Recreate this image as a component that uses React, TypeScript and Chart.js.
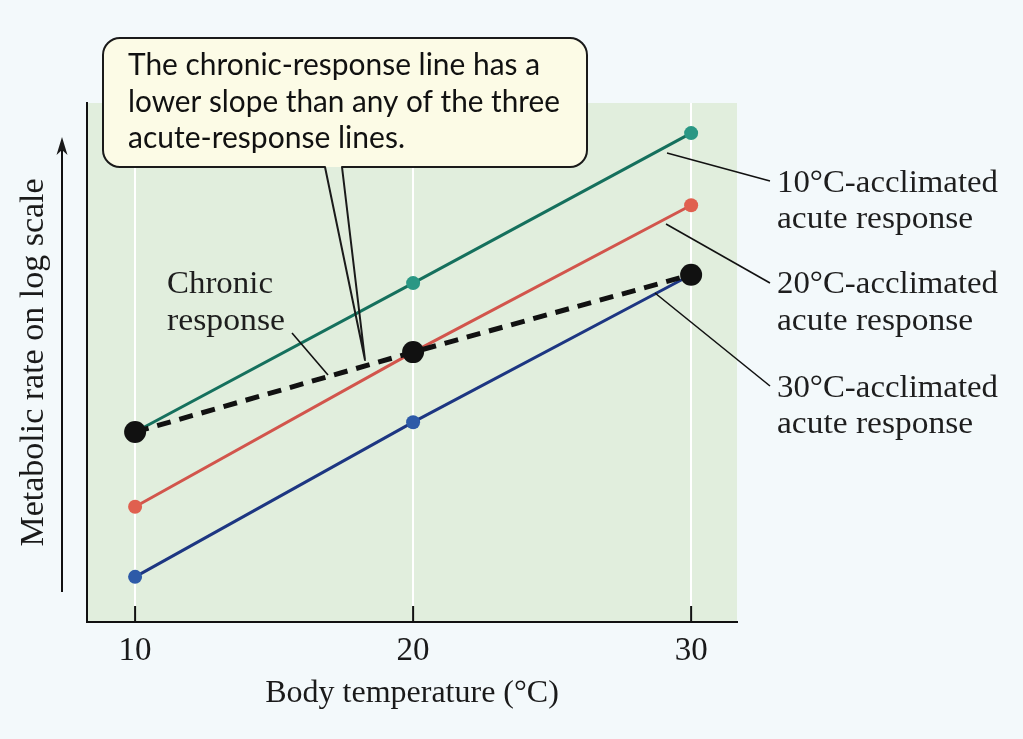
import React, { useEffect, useRef } from "react";
import { Chart, registerables } from "chart.js";

Chart.register(...registerables);

// ---- data ----
const temps = [10, 20, 30];
const xTicks = [10, 20, 30];
const acclim10 = [3.66, 6.53, 9.42];
const acclim20 = [2.22, 5.2, 8.03];
const acclim30 = [0.87, 3.85, 6.69];
const chronic = [3.66, 5.2, 6.69];

const xTitle = "Body temperature (°C)";
const yTitle = "Metabolic rate on log scale";
const calloutLines = [
  "The chronic-response line has a",
  "lower slope than any of the three",
  "acute-response lines.",
];
const seriesLabels = [
  ["10°C-acclimated", "acute response"],
  ["20°C-acclimated", "acute response"],
  ["30°C-acclimated", "acute response"],
];
const chronicLabel = ["Chronic", "response"];

const SERIF = "'Liberation Serif', 'Times New Roman', serif";
const SANS = "Lato, 'Open Sans', sans-serif";
const PAGE_BG = "#f3f9fb";
const PLOT_BG = "#e1eedd";

function fitText(ctx: CanvasRenderingContext2D, text: string, x: number, y: number, font: string, width: number) {
  ctx.font = font;
  const w = ctx.measureText(text).width;
  const sx = width / w;
  ctx.save();
  ctx.translate(x, y);
  ctx.scale(sx, 1);
  ctx.textBaseline = "alphabetic";
  ctx.textAlign = "left";
  ctx.fillText(text, 0, 0);
  ctx.restore();
}

function line(ctx: CanvasRenderingContext2D, x1: number, y1: number, x2: number, y2: number, w = 1.6) {
  ctx.beginPath();
  ctx.lineWidth = w;
  ctx.moveTo(x1, y1);
  ctx.lineTo(x2, y2);
  ctx.stroke();
}

const decor = {
  id: "decor",
  beforeDraw(chart: any) {
    const { ctx, chartArea: a } = chart;
    ctx.save();
    ctx.fillStyle = PAGE_BG;
    ctx.fillRect(0, 0, chart.width, chart.height);
    ctx.fillStyle = PLOT_BG;
    ctx.fillRect(a.left, a.top, a.right - a.left, a.bottom - a.top);
    ctx.restore();
  },
  afterDraw(chart: any) {
    const { ctx, chartArea: a, scales } = chart;
    const xs = scales.x;
    ctx.save();
    ctx.strokeStyle = "#111";
    ctx.fillStyle = "#1a1a1a";
    // inward tick marks
    xTicks.forEach((t) => {
      const px = xs.getPixelForValue(t);
      line(ctx, px, a.bottom - 16, px, a.bottom, 2);
    });
    // y arrow
    line(ctx, 62, 592, 62, 150, 2);
    ctx.beginPath();
    ctx.moveTo(62, 137);
    ctx.lineTo(56.5, 155);
    ctx.lineTo(62, 150);
    ctx.lineTo(67.5, 155);
    ctx.closePath();
    ctx.fill();

    // leader lines
    line(ctx, 667, 153, 770, 181);
    line(ctx, 666, 224, 770, 283);
    line(ctx, 655, 293, 770, 386);
    line(ctx, 292, 333, 328, 375);

    // series labels
    const base = [[192, 228], [293, 330], [397, 433]];
    const widths = [[221, 196], [221, 196], [221, 196]];
    ctx.fillStyle = "#1e1e1e";
    seriesLabels.forEach((pair, i) => {
      pair.forEach((t, j) => fitText(ctx, t, 777, base[i][j], `32px ${SERIF}`, widths[i][j]));
    });
    fitText(ctx, chronicLabel[0], 167, 293, `31px ${SERIF}`, 106);
    fitText(ctx, chronicLabel[1], 167, 330, `31px ${SERIF}`, 118);

    // callout box
    const L = 103, R = 587, T = 38, B = 167, r = 17;
    const w1 = 325, w2 = 342, tipX = 365, tipY = 360;
    ctx.beginPath();
    ctx.moveTo(L + r, T);
    ctx.lineTo(R - r, T);
    ctx.arcTo(R, T, R, T + r, r);
    ctx.lineTo(R, B - r);
    ctx.arcTo(R, B, R - r, B, r);
    ctx.lineTo(L + r, B);
    ctx.arcTo(L, B, L, B - r, r);
    ctx.lineTo(L, T + r);
    ctx.arcTo(L, T, L + r, T, r);
    ctx.closePath();
    ctx.fillStyle = "#fcfbe6";
    ctx.fill();
    ctx.beginPath();
    ctx.moveTo(L + r, T);
    ctx.lineTo(R - r, T);
    ctx.arcTo(R, T, R, T + r, r);
    ctx.lineTo(R, B - r);
    ctx.arcTo(R, B, R - r, B, r);
    ctx.lineTo(w2, B);
    ctx.lineTo(tipX, tipY);
    ctx.lineTo(w1, B);
    ctx.lineTo(L + r, B);
    ctx.arcTo(L, B, L, B - r, r);
    ctx.lineTo(L, T + r);
    ctx.arcTo(L, T, L + r, T, r);
    ctx.closePath();
    ctx.lineWidth = 2;
    ctx.strokeStyle = "#1a1a1a";
    ctx.lineJoin = "round";
    ctx.stroke();

    ctx.fillStyle = "#111";
    const cb = [75, 112, 148];
    const cw = [412, 432, 277];
    calloutLines.forEach((t, i) => fitText(ctx, t, 128, cb[i], `31px ${SANS}`, cw[i]));
    ctx.restore();
  },
};

export default function App() {
  const ref = useRef<HTMLCanvasElement>(null);
  useEffect(() => {
    const canvas = ref.current!;
    const mk = (data: number[], line: string, pt: string, radius: number, extra: any = {}) => ({
      data: temps.map((t, i) => ({ x: t, y: data[i] })),
      borderColor: line,
      backgroundColor: pt,
      pointBackgroundColor: pt,
      pointBorderColor: pt,
      pointBorderWidth: 0,
      pointRadius: radius,
      borderWidth: 3,
      tension: 0,
      order: 1,
      ...extra,
    });
    const chart = new Chart(canvas, {
      type: "line",
      data: {
        datasets: [
          mk(acclim10, "#15705d", "#2a9784", 7, { label: "10°C-acclimated acute response" }),
          mk(acclim20, "#d2554c", "#e0604f", 7, { label: "20°C-acclimated acute response" }),
          mk(acclim30, "#1d3682", "#2d5aa8", 7, { label: "30°C-acclimated acute response" }),
          mk(chronic, "#111111", "#111111", 11, { label: "Chronic response", borderWidth: 5, borderDash: [14, 9], order: 0 }),
        ],
      },
      options: {
        responsive: false,
        animation: false,
        layout: { padding: { top: 103, right: 286, left: 0, bottom: 0 } },
        plugins: { legend: { display: false }, tooltip: { enabled: false } },
        scales: {
          x: {
            type: "linear",
            min: 8.27,
            max: 31.65,
            afterFit: (s: any) => { s.height = 739 - 622; },
            afterBuildTicks: (s: any) => { s.ticks = xTicks.map((v) => ({ value: v })); },
            ticks: { color: "#1a1a1a", font: { family: SERIF, size: 33 }, padding: 10 },
            grid: { color: "#ffffff", lineWidth: 2, drawTicks: false },
            border: { color: "#111", width: 2 },
            title: { display: true, text: xTitle, color: "#1a1a1a", font: { family: SERIF, size: 32 }, padding: { top: 0, bottom: 26 } },
          },
          y: {
            min: 0,
            max: 10,
            afterFit: (s: any) => { s.width = 87; },
            ticks: { display: false },
            grid: { display: false },
            border: { color: "#111", width: 2 },
            title: { display: true, text: yTitle, color: "#1a1a1a", font: { family: SERIF, size: 34 }, padding: { top: 14, bottom: 0 } },
          },
        },
      },
      plugins: [decor],
    });
    return () => chart.destroy();
  }, []);
  return (
    <div style={{ position: "fixed", left: 0, top: 0, width: 1023, height: 739, background: PAGE_BG }}>
      <canvas ref={ref} width={1023} height={739} />
    </div>
  );
}
